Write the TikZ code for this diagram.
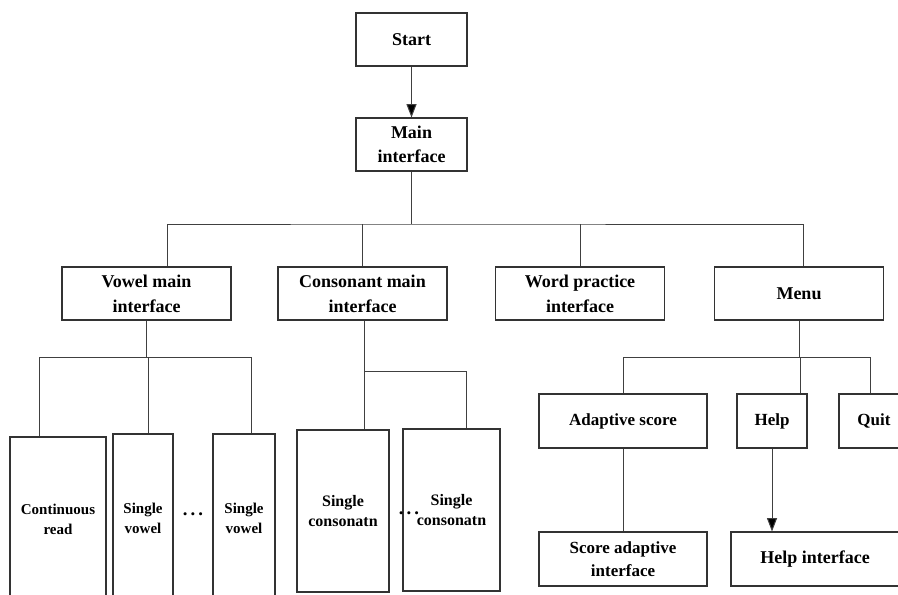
\documentclass[tikz,border=0pt]{standalone}
\usepackage{fontspec}
\setmainfont{Liberation Serif}
\usetikzlibrary{arrows.meta}

\begin{document}
\begin{tikzpicture}[
    x=0.75pt, y=-0.75pt,
    box/.style={rectangle, draw=black!80, line width=0.8pt, align=center, inner sep=2pt,
        font=\bfseries\fontsize{13.5}{18.5}\selectfont},
    top/.style={box, minimum width=126.75pt, minimum height=39.75pt},
    sub/.style={box, minimum width=126pt, minimum height=40.5pt, font=\bfseries\fontsize{12.75}{17}\selectfont},
    tall/.style={box, minimum height=126pt, font=\bfseries\fontsize{11.25}{15}\selectfont},
    dots/.style={inner sep=0pt, font=\bfseries\fontsize{14}{14}\selectfont},
    line/.style={draw=black!75, line width=0.75pt},
    arrow/.style={line, -{Triangle[length=10pt, width=7.5pt, fill=black]}}
]
    \useasboundingbox (0,0) rectangle (898,594);
    \clip (0,0) rectangle (898,594);

    \node[box, minimum width=83.25pt, minimum height=39.75pt] (start) at (411.5,39.5) {Start};
    \node[box, minimum width=83.25pt, minimum height=39.75pt] (main) at (411.5,144.5) {Main\\interface};

    \node[top] (vowel) at (146.5,293.5) {Vowel main\\interface};
    \node[top] (cons) at (362.5,293.5) {Consonant main\\interface};
    \node[top] (word) at (580,293.5) {Word practice\\interface};
    \node[top] (menu) at (799,293.5) {Menu};

    \node[tall, minimum width=72pt, minimum height=123.75pt] (cread) at (58,519.5) {Continuous\\read};
    \node[tall, minimum width=45pt] (vowelA) at (143,518) {Single\\vowel};
    \node[tall, minimum width=46.5pt] (vowelB) at (244,518) {Single\\vowel};
    \node[dots] (vdots) at (193,514) {.\,.\,.};

    \node[tall, minimum width=69pt, minimum height=121.5pt, font=\bfseries\fontsize{12}{15}\selectfont] (consA) at (343,511) {Single\\consonatn};
    \node[tall, minimum width=72.75pt, minimum height=121.5pt, font=\bfseries\fontsize{12}{15}\selectfont] (consB) at (451.5,510) {Single\\consonatn};
    \node[dots] (cdots) at (409,513) {.\,.\,.};

    \node[sub] (adapt) at (623,421) {Adaptive score};
    \node[sub, minimum width=52.5pt] (help) at (772,421) {Help};
    \node[sub, minimum width=52.5pt] (quit) at (874,421) {Quit};
    \node[sub] (scoreint) at (623,559) {Score adaptive\\interface};
    \node[sub, font=\bfseries\fontsize{13.5}{18}\selectfont] (helpint) at (815,559) {Help interface};

    \coordinate (bus) at (411.5,224);
    \coordinate (vbus) at (146.5,357);
    \coordinate (cbus) at (364,371);
    \coordinate (mbus) at (799,357);

    \draw[arrow] (start) -- (main);
    \draw[line] (main) -- (bus);
    \draw[line] ([xshift=15.4pt]vowel.north) |- (bus) -| ([xshift=3pt]menu.north);
    \draw[line] (cons.north) -- (cons.north |- bus);
    \draw[line] (word.north) -- (word.north |- bus);

    \draw[line] (vowel.south) -- (vbus);
    \draw[line] ([xshift=-14.25pt]cread.north) |- (vbus) -| ([xshift=5.25pt]vowelB.north);
    \draw[line] ([xshift=3.75pt]vowelA.north) -- ([xshift=3.75pt]vowelA.north |- vbus);

    \draw[line] ([xshift=15.75pt]consA.north) -- (cons.south -| cbus);
    \draw[line] (cbus) -| ([xshift=11.6pt]consB.north);

    \draw[line] (menu.south) -- (mbus);
    \draw[line] (adapt.north) |- (mbus) -| ([xshift=-3pt]quit.north);
    \draw[line] ([xshift=21pt]help.north) -- ([xshift=21pt]help.north |- mbus);

    \draw[line] (adapt) -- (scoreint);
    \draw[arrow] (help) -- (help |- helpint.north);
\end{tikzpicture}
\end{document}
